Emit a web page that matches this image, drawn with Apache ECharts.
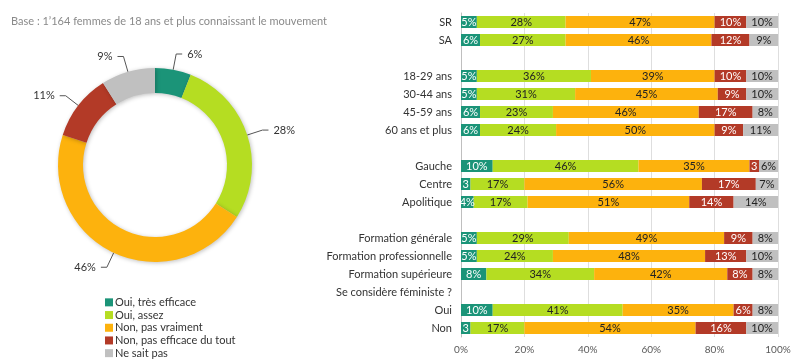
<!DOCTYPE html>
<html><head><meta charset="utf-8">
<script src="https://cdn.jsdelivr.net/npm/echarts@6/dist/echarts.min.js"></script>
<style>html,body{margin:0;padding:0;background:#fff}#c{width:796px;height:362px}</style>
</head><body><div id="c"></div>
<script>
const seriesNames = ['Oui, très efficace','Oui, assez','Non, pas vraiment','Non, pas efficace du tout','Ne sait pas'];
const colors = ['#1b9478','#b5dd22','#fdb20d','#b33a27','#c0c0c0'];
const labelColors = ['#ffffff','#222222','#222222','#ffffff','#222222'];
const pieValues = [6,28,46,11,9];
const categories = ['SR','SA',' ','18-29 ans','30-44 ans','45-59 ans','60 ans et plus','  ','Gauche','Centre','Apolitique','   ','Formation générale','Formation professionnelle','Formation supérieure','Se considère féministe ?','Oui','Non'];
const tresEfficace = [5,6,null,5,5,6,6,null,10,3,4,null,5,5,8,null,10,3];
const assez        = [28,27,null,36,31,23,24,null,46,17,17,null,29,24,34,null,41,17];
const pasVraiment  = [47,46,null,39,45,46,50,null,35,56,51,null,49,48,42,null,35,54];
const pasDuTout    = [10,12,null,10,9,17,9,null,3,17,14,null,9,13,8,null,6,16];
const neSaitPas    = [10,9,null,10,10,8,11,null,6,7,14,null,8,10,8,null,8,10];
const xTicks = [0,20,40,60,80,100];
const barData = [tresEfficace, assez, pasVraiment, pasDuTout, neSaitPas];
const titleText = 'Base : 1\u2019164 femmes de 18 ans et plus connaissant le mouvement';

const FONT = 'Lato';
const chart = echarts.init(document.getElementById('c'), null, {renderer:'canvas'});
const catData = categories.map(c => c === 'Se considère féministe ?'
  ? {value:c, textStyle:{padding:[11,0,0,0]}} : c);

const barSeries = seriesNames.map((n,i)=>({
  name:n, type:'bar', stack:'all', barWidth:'67%',
  xAxisIndex:0, yAxisIndex:0,
  itemStyle:{color:colors[i]},
  label:{show:true, position:'inside', color:labelColors[i], fontFamily:FONT, fontSize:11,
    formatter:p => p.value==null ? '' : (p.value < 4 ? String(p.value) : p.value + '%')},
  emphasis:{disabled:true},
  data: barData[i]
}));

chart.setOption({
  animation:false,
  color: colors,
  textStyle:{fontFamily:FONT},
  title:{text:titleText, left:6, top:11, textStyle:{fontFamily:FONT, fontSize:11, fontWeight:'normal', color:'#8a8a8a'}},
  legend:{orient:'vertical', left:100, top:291, height:71, itemWidth:8, itemHeight:8, itemGap:0, icon:'rect',
    data: seriesNames, textStyle:{fontFamily:FONT, fontSize:11, lineHeight:12.7, color:'#333', padding:[0,0,0,-3]}, selectedMode:false},
  grid:{left:461, right:18, top:13, bottom:25},
  xAxis:{type:'value', min:0, max:100, interval:20,
    axisLine:{show:false}, axisTick:{show:false},
    splitLine:{lineStyle:{color:'#dedede'}},
    axisLabel:{formatter: v => xTicks.includes(v) ? v+'%' : '', fontFamily:FONT, fontSize:10, color:'#595959', margin:8}},
  yAxis:{type:'category', inverse:true, data:catData,
    axisLine:{lineStyle:{color:'#bfbfbf'}}, axisTick:{show:false},
    axisLabel:{fontFamily:FONT, fontSize:11, color:'#333', margin:9}},
  series:[{
    name:'pie', type:'pie', center:[155,165], radius:[72,97], startAngle:90, clockwise:true,
    avoidLabelOverlap:false,
    itemStyle:{shadowBlur:4, shadowColor:'rgba(0,0,0,0.25)', shadowOffsetX:1, shadowOffsetY:1},
    label:{formatter:'{c}%', fontFamily:FONT, fontSize:11, color:'#333'},
    labelLine:{length:16, length2:6, lineStyle:{color:'#555', width:1}},
    emphasis:{disabled:true},
    data: seriesNames.map((n,i)=>({name:n, value:pieValues[i], itemStyle:{color:colors[i]}}))
  }].concat(barSeries)
});
</script></body></html>
